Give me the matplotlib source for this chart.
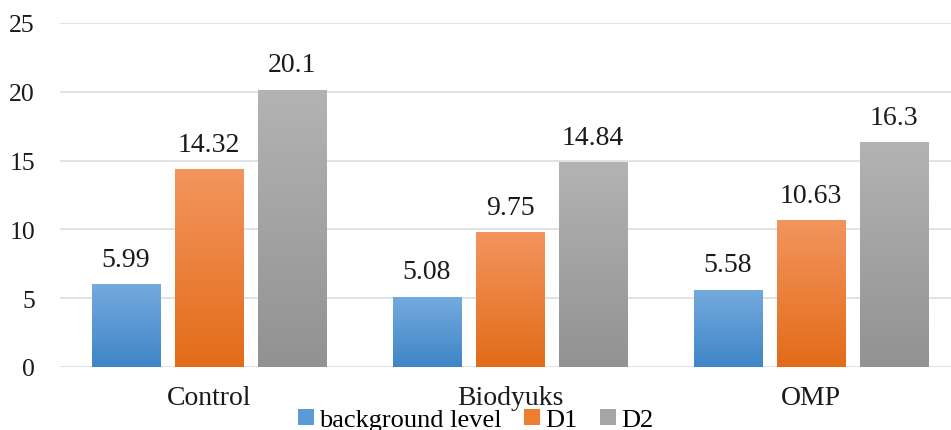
import numpy as np
import matplotlib

matplotlib.use("Agg")
import matplotlib.pyplot as plt  # noqa: E402
from matplotlib.colors import LinearSegmentedColormap  # noqa: E402
from matplotlib.patches import Patch  # noqa: E402

categories = ["Control", "Biodyuks", "OMP"]
series_names = ["background level", "D1", "D2"]
background = [5.99, 5.08, 5.58]
d1 = [14.32, 9.75, 10.63]
d2 = [20.1, 14.84, 16.3]
y_ticks = [0, 5, 10, 15, 20, 25]

# (top colour, bottom colour) for the vertical gradient fill of each series
GRADIENTS = [
    ("#74aade", "#3f85c7"),
    ("#f3955e", "#e36b18"),
    ("#b3b3b3", "#929292"),
]
SOLID = ["#5b9bd5", "#ed7d31", "#a5a5a5"]
FS = 20

plt.rcParams["font.family"] = ["Liberation Serif", "DejaVu Serif"]

fig = plt.figure(figsize=(9.51, 4.31), dpi=100)
ax = fig.add_axes([60 / 951, 63 / 431, 891 / 951, 344 / 431])

x = np.arange(len(categories))
width = 0.226
step = 0.276
values = [background, d1, d2]

for i, (vals, (top, bottom)) in enumerate(zip(values, GRADIENTS)):
    bars = ax.bar(x + (i - 1) * step, vals, width, color="none", edgecolor="none", zorder=3)
    cmap = LinearSegmentedColormap.from_list(f"g{i}", [bottom, top])
    grad = np.linspace(0, 1, 256).reshape(-1, 1)
    for bar, v in zip(bars, vals):
        bx, bw, bh = bar.get_x(), bar.get_width(), bar.get_height()
        ax.imshow(grad, cmap=cmap, origin="lower", aspect="auto",
                  extent=(bx, bx + bw, 0, bh), zorder=3, interpolation="bicubic")
        ax.text(bx + bw / 2, bh + 0.95, f"{v:g}", ha="center", va="bottom",
                fontsize=FS, color="#1a1a1a")

ax.set_xlim(-0.495, 2.465)
ax.set_ylim(0, 25)
ax.set_yticks(y_ticks)
ax.set_xticks(x)
ax.set_xticklabels(categories)
ax.tick_params(axis="both", length=0, labelsize=FS, colors="#1a1a1a")
ax.tick_params(axis="y", labelsize=18.5, pad=18)
ax.tick_params(axis="x", pad=13)
ax.grid(axis="y", color="#d9dde3", linewidth=1.2, zorder=0)
ax.set_axisbelow(True)
for spine in ax.spines.values():
    spine.set_visible(False)

handles = [Patch(facecolor=c, edgecolor="none") for c in SOLID]
fig.legend(handles, series_names, loc="center", bbox_to_anchor=(0.5, 10 / 431),
           ncol=3, frameon=False, fontsize=19, handlelength=0.6, handleheight=0.6,
           handletextpad=0.2, columnspacing=0.85)

fig.savefig("out.png", dpi=100)
